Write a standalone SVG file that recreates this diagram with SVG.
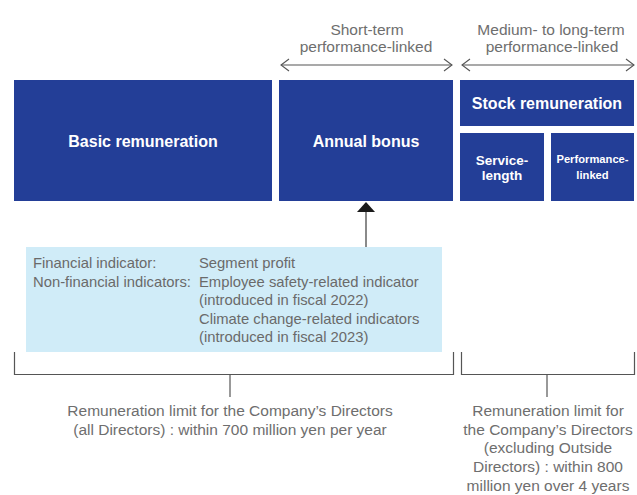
<svg xmlns="http://www.w3.org/2000/svg" width="637" height="495" viewBox="0 0 637 495">
<style>
.box{fill:#233e97}
.bt{font-family:"Liberation Sans",Arial,sans-serif;font-weight:bold;fill:#ffffff;text-anchor:middle}
.lt{font-family:"Liberation Sans",Arial,sans-serif;fill:#6e6e6e;font-size:15.5px;text-anchor:middle}
.it{font-family:"Liberation Sans",Arial,sans-serif;fill:#6a6a6a;font-size:14.8px}
.bk{fill:none;stroke:#555555;stroke-width:1.2}
.ar{fill:none;stroke:#555555;stroke-width:1.1}
</style>
<defs>
<marker id="chev" markerWidth="10" markerHeight="14" refX="9" refY="7" orient="auto-start-reverse" markerUnits="userSpaceOnUse">
<path d="M1,1 L9,7 L1,13" fill="none" stroke="#555555" stroke-width="1.1"/>
</marker>
</defs>

<g id="label-short">
<text class="lt" x="367" y="35">Short-term</text>
<text class="lt" x="366" y="51.5">performance-linked</text>
</g>
<g id="label-medium">
<text class="lt" x="551" y="35">Medium- to long-term</text>
<text class="lt" x="552" y="51.5">performance-linked</text>
</g>

<g id="basic">
<rect class="box" x="14" y="80" width="258" height="121"/>
<text class="bt" x="143" y="147" font-size="16">Basic remuneration</text>
</g>
<g id="annual">
<rect class="box" x="279" y="80" width="174" height="121"/>
<text class="bt" x="366" y="147" font-size="16">Annual bonus</text>
</g>
<g id="stock">
<rect class="box" x="460" y="80" width="174" height="46"/>
<text class="bt" x="547" y="109" font-size="16">Stock remuneration</text>
</g>
<g id="service">
<rect class="box" x="460" y="133" width="84" height="68"/>
<text class="bt" x="502" y="165" font-size="13.5">Service-</text>
<text class="bt" x="502" y="180" font-size="13.5">length</text>
</g>
<g id="performance">
<rect class="box" x="551" y="133" width="83" height="68"/>
<text class="bt" x="592.5" y="163" font-size="11.2">Performance-</text>
<text class="bt" x="592.5" y="179" font-size="11.2">linked</text>
</g>

<g id="indicators">
<rect x="26" y="247" width="416" height="105" fill="#d0ecf8"/>
<text class="it" x="33" y="268">Financial indicator:</text>
<text class="it" x="33" y="286.5">Non-financial indicators:</text>
<text class="it" x="199" y="268">Segment profit</text>
<text class="it" x="199" y="286.5">Employee safety-related indicator</text>
<text class="it" x="199" y="305">(introduced in fiscal 2022)</text>
<text class="it" x="199" y="323.5">Climate change-related indicators</text>
<text class="it" x="199" y="342">(introduced in fiscal 2023)</text>
</g>

<g id="limit-all">
<text class="lt" x="230" y="416">Remuneration limit for the Company’s Directors</text>
<text class="lt" x="230" y="434.7">(all Directors) : within 700 million yen per year</text>
</g>
<g id="limit-stock">
<text class="lt" x="548" y="416">Remuneration limit for</text>
<text class="lt" x="548" y="434.7">the Company’s Directors</text>
<text class="lt" x="548" y="453.4">(excluding Outside</text>
<text class="lt" x="548" y="472.1">Directors) : within 800</text>
<text class="lt" x="548" y="490.8">million yen over 4 years</text>
</g>

<g id="connectors">
<line class="ar" x1="281" y1="65" x2="452" y2="65" marker-start="url(#chev)" marker-end="url(#chev)"/>
<line class="ar" x1="462" y1="65" x2="634" y2="65" marker-start="url(#chev)" marker-end="url(#chev)"/>
<line x1="366" y1="247" x2="366" y2="212" stroke="#8a8a8a" stroke-width="2"/>
<path d="M357,212 L366,202 L375,212 Z" fill="#1a1a1a"/>
<path class="bk" d="M14.5,352 V374.5 H453.5 V352"/>
<line class="bk" x1="230" y1="374.5" x2="230" y2="397"/>
<path class="bk" d="M461.5,352 V374.5 H634.5 V352"/>
<line class="bk" x1="547" y1="374.5" x2="547" y2="397"/>
</g>
</svg>
